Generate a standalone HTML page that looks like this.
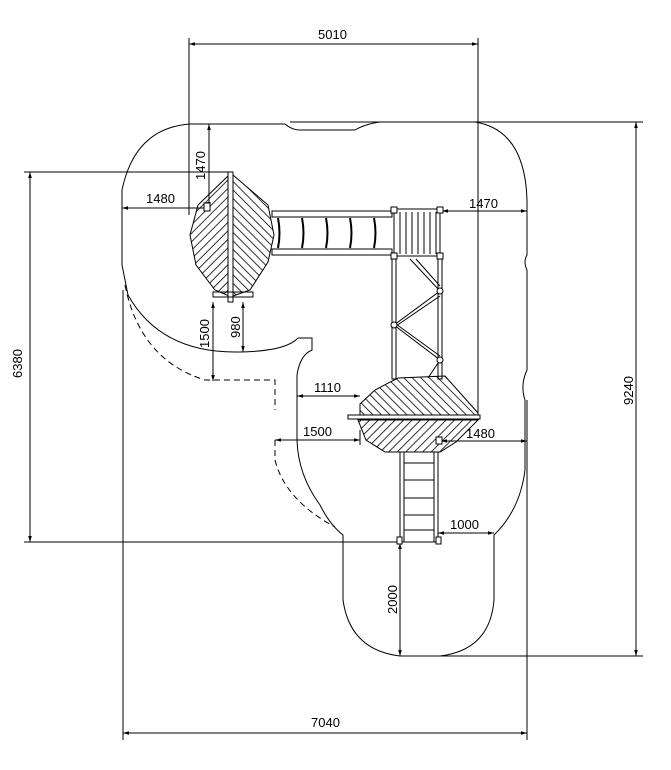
<!DOCTYPE html>
<html><head><style>
html,body{margin:0;padding:0;background:#fff;width:671px;height:770px;overflow:hidden}
svg{display:block}
text{font-family:"Liberation Sans",sans-serif;font-size:13px;fill:#000}
</style></head><body>
<svg width="671" height="770" viewBox="0 0 671 770" xmlns="http://www.w3.org/2000/svg">
<defs>
<pattern id="hA" patternUnits="userSpaceOnUse" width="6" height="6" patternTransform="rotate(45)"><line x1="0" y1="0" x2="0" y2="6" stroke="#000" stroke-width="1.6"/></pattern>
<pattern id="hB" patternUnits="userSpaceOnUse" width="6" height="6" patternTransform="rotate(-45)"><line x1="0" y1="0" x2="0" y2="6" stroke="#000" stroke-width="1.6"/></pattern>
<marker id="a" viewBox="0 0 10 10" refX="10" refY="5" markerWidth="8" markerHeight="6" orient="auto-start-reverse"><path d="M0,2 L10,5 L0,8z" fill="#000"/></marker>
</defs>
<g fill="none" stroke="#000" stroke-width="1">
<!-- safety zone outline -->
<path d="M190,124 L285,124 Q292,130 300,130 L355,130 Q365,124 380,122 L475,122 Q525,130 527,200 L527,255 Q523,262 527,270 L527,370 Q520,385 525,400 L525,470 Q520,510 494,535 L494,600 Q490,650 440,656 L400,656 Q350,650 343,600 L343,535 Q330,525 320,505 Q298,475 297,440 L297,375 Q300,355 312,350 L312,338 L298,338 Q285,352 235,352 Q160,352 128,295 L122,265 L122,190 Q135,128 190,124 Z"/>
<!-- dashed -->
<path d="M125,285 Q140,360 205,380 L275,380 L275,410" stroke-dasharray="6,4"/>
<path d="M275,440 L275,460 Q285,500 335,527" stroke-dasharray="6,4"/>
<!-- dimension lines -->
<line x1="189" y1="38" x2="189" y2="215"/>
<line x1="478" y1="38" x2="478" y2="420"/>
<line x1="189" y1="44" x2="478" y2="44" marker-start="url(#a)" marker-end="url(#a)"/>
<line x1="290" y1="122" x2="643" y2="122"/>
<line x1="400" y1="656" x2="643" y2="656"/>
<line x1="636" y1="122" x2="636" y2="656" marker-start="url(#a)" marker-end="url(#a)"/>
<line x1="24" y1="172" x2="230" y2="172"/>
<line x1="24" y1="542" x2="400" y2="542"/>
<line x1="30" y1="172" x2="30" y2="542" marker-start="url(#a)" marker-end="url(#a)"/>
<line x1="123" y1="290" x2="123" y2="740"/>
<line x1="527" y1="400" x2="527" y2="740"/>
<line x1="123" y1="733" x2="527" y2="733" marker-start="url(#a)" marker-end="url(#a)"/>
<line x1="209" y1="124" x2="209" y2="208" marker-start="url(#a)" marker-end="url(#a)"/>
<line x1="122" y1="208" x2="208" y2="208" marker-start="url(#a)"/>
<line x1="213" y1="302" x2="213" y2="381" marker-start="url(#a)" marker-end="url(#a)"/>
<line x1="243" y1="302" x2="243" y2="352" marker-start="url(#a)" marker-end="url(#a)"/>
<line x1="297" y1="396" x2="360" y2="396" marker-start="url(#a)" marker-end="url(#a)"/>
<line x1="275" y1="440" x2="360" y2="440" marker-start="url(#a)" marker-end="url(#a)"/>
<line x1="360" y1="430" x2="360" y2="445"/>
<line x1="441" y1="441" x2="527" y2="441" marker-start="url(#a)" marker-end="url(#a)"/>
<line x1="442" y1="211" x2="527" y2="211" marker-start="url(#a)" marker-end="url(#a)"/>
<line x1="438" y1="533" x2="494" y2="533" marker-start="url(#a)" marker-end="url(#a)"/>
<line x1="400" y1="543" x2="400" y2="656" marker-start="url(#a)" marker-end="url(#a)"/>
<!-- left roof -->
<path d="M229,175 L198,205 L190,235 L196,265 L215,290 L229,296 Z" fill="url(#hA)"/>
<path d="M233,175 L268,205 L274,235 L268,262 L250,290 L233,296 Z" fill="url(#hB)"/>
<rect x="228" y="172" width="5" height="130" fill="#fff"/>
<rect x="213" y="292" width="40" height="5"/>
<rect x="204" y="203" width="6" height="8" fill="#fff"/>
<!-- bridge -->
<rect x="272" y="211" width="120" height="6"/><rect x="272" y="249" width="120" height="6"/>
<g stroke-width="2"><path d="M278,218 q3,15 0,30 M302,218 q3,15 0,30 M326,218 q3,15 0,30 M350,218 q3,15 0,30 M374,218 q3,15 0,30"/></g>
<!-- platform -->
<rect x="394" y="209" width="46" height="47"/>
<path d="M400,212 V254 M406,212 V254 M412,212 V254 M418,212 V254 M424,212 V254 M430,212 V254 M436,212 V254"/>
<rect x="391" y="207" width="6" height="6" fill="#fff"/><rect x="437" y="207" width="6" height="6" fill="#fff"/>
<rect x="391" y="253" width="6" height="6" fill="#fff"/><rect x="437" y="253" width="6" height="6" fill="#fff"/>
<!-- frame -->
<rect x="392" y="259" width="4" height="120"/><rect x="438" y="259" width="4" height="120"/>
<path d="M410,259 L440,291 L394,325 L440,360 L428,378 M416,259 L440,286 M440,296 L396,326 M396,324 L440,356"/>
<circle cx="440" cy="291" r="3" fill="#fff"/><circle cx="394" cy="325" r="3" fill="#fff"/><circle cx="440" cy="360" r="3" fill="#fff"/>
<!-- lower roof -->
<path d="M360,415 L360,404 L375,390 L398,378 L445,376 L478,413 L478,415 Z" fill="url(#hB)"/>
<path d="M358,420 L366,440 L385,452 L440,452 L456,442 L478,420 Z" fill="url(#hA)"/>
<rect x="348" y="415" width="132" height="4" fill="#fff"/>
<rect x="436" y="437" width="6" height="7" fill="#fff"/>
<!-- ladder -->
<rect x="400" y="452" width="4" height="90"/><rect x="434" y="452" width="4" height="90"/>
<path d="M404,463 H434 M404,480 H434 M404,498 H434 M404,515 H434 M404,530 H434 M404,542 H434"/>
<rect x="397" y="537" width="5" height="7" fill="#fff"/><rect x="436" y="537" width="5" height="7" fill="#fff"/>
</g>
<g>
<text x="318" y="39">5010</text>
<text x="311" y="727">7040</text>
<text x="146" y="203">1480</text>
<text x="469" y="208">1470</text>
<text x="314" y="392">1110</text>
<text x="303" y="436">1500</text>
<text x="466" y="438">1480</text>
<text x="450" y="529">1000</text>
<text transform="translate(205,180) rotate(-90)">1470</text>
<text transform="translate(209,348) rotate(-90)">1500</text>
<text transform="translate(240,338) rotate(-90)">980</text>
<text transform="translate(397,614) rotate(-90)">2000</text>
<text transform="translate(22,378) rotate(-90)">6380</text>
<text transform="translate(633,405) rotate(-90)">9240</text>
</g>
</svg>
</body></html>
